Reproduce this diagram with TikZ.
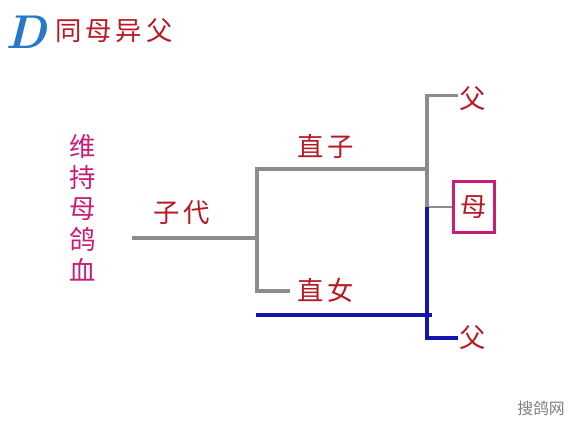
\documentclass[tikz,border=0pt]{standalone}
\usepackage{fontspec}
\newfontfamily\cjk{Noto Sans CJK SC}
\newfontfamily\cjkwide{Noto Sans CJK SC}[LetterSpace=15]
\definecolor{hanred}{RGB}{185,25,35}
\definecolor{hanpink}{RGB}{200,30,120}
\definecolor{linegray}{RGB}{140,140,140}
\definecolor{lineblue}{RGB}{20,20,170}
\definecolor{dblue}{RGB}{40,120,200}
\tikzset{
  lbl/.style={font=\cjkwide\fontsize{15}{18}\selectfont, text=hanred, inner sep=1pt},
  grayline/.style={draw=linegray, line width=2.2pt},
  blueline/.style={draw=lineblue, line width=2.5pt},
  mombox/.style={lbl, draw=hanpink, line width=1.8pt, minimum width=0.82cm, minimum height=1.02cm},
}
\begin{document}
\begin{tikzpicture}[x=0.02cm,y=-0.02cm]
\useasboundingbox (0,0) rectangle (580,435);
% title
\node[font=\bfseries\itshape\fontsize{27}{27}\selectfont, text=dblue] (D) at (26,32) {D};
\node[lbl, anchor=west] (title) at (53,31) {同母异父};
\node[lbl, text=hanpink, align=center, font=\cjk\fontsize{15}{17.6}\selectfont] (keep) at (83,208) {维\\持\\母\\鸽\\血};

\coordinate (root) at (132,238);
\coordinate (fork) at (257,238);
\coordinate (sonup) at (257,169);
\coordinate (daudn) at (257,291);
\coordinate (daug) at (290,291);
\coordinate (pfork) at (427,169);
\coordinate (pmid) at (427,207);
\coordinate (blueL) at (256,315);
\coordinate (blueR) at (432,315);

\node[lbl] (gen) at (182,213) {子代};
\node[lbl] (son) at (326,146) {直子};
\node[lbl] (dau) at (326,290) {直女};
\node[lbl] (dad1) at (473,99) {父};
\node[mombox] (mom) at (474,207) {母};
\node[lbl] (dad2) at (473,338) {父};

% gray lines
\draw[grayline] (root) -- (fork);
\draw[grayline] (pfork) -- (sonup) -- (daudn) -- (daug);
\draw[grayline] ([yshift=2]dad1.west) -- ([yshift=2]dad1.west -| pmid) -- (pmid);
\draw[linegray, line width=1pt] (pmid) -- (pmid -| mom.west);
% blue lines
\draw[blueline] (pmid) -- (dad2.west -| pmid) -- (dad2.west);
\draw[blueline] (blueL) -- (blueR);

\node[font=\cjk\fontsize{9}{10}\selectfont, text=gray] (mark) at (541,408) {搜鸽网};
\end{tikzpicture}
\end{document}
